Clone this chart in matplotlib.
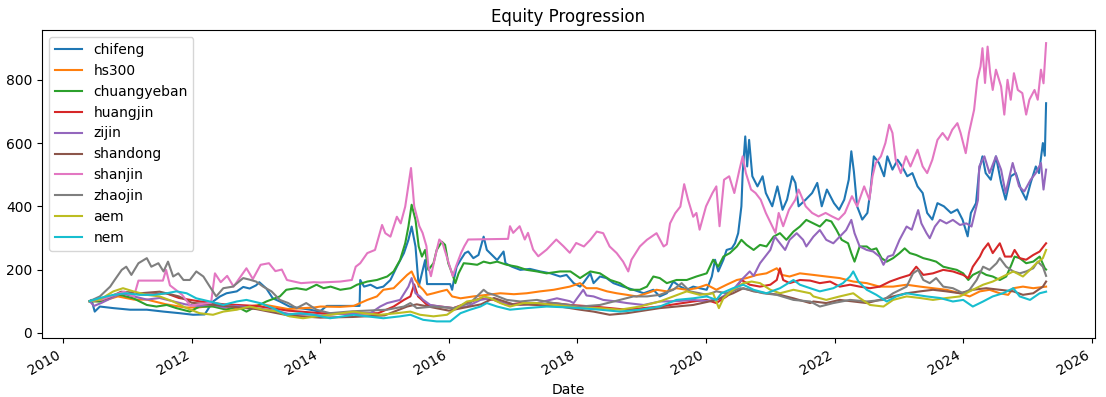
import pandas as pd
import matplotlib
matplotlib.use('Agg')
import matplotlib.pyplot as plt
import matplotlib.dates as mdates

# values, x in decimal years
chifeng_t = [2010.41, 2010.44, 2010.49, 2010.57, 2010.78, 2011.04, 2011.3, 2011.56, 2011.81, 2012.02, 2012.2,
             2012.33, 2012.44, 2012.54, 2012.7, 2012.8, 2012.9, 2013.0, 2013.05, 2013.16, 2013.26, 2013.37,
             2013.52, 2013.68, 2013.84, 2013.99, 2014.1, 2014.3, 2014.61, 2014.62, 2014.68, 2014.78, 2014.88,
             2014.98, 2015.09, 2015.19, 2015.3, 2015.37, 2015.42, 2015.48, 2015.53, 2015.58, 2015.63, 2015.66,
             2016.02, 2016.05, 2016.08, 2016.12, 2016.18, 2016.25, 2016.3, 2016.38, 2016.46, 2016.54, 2016.59,
             2016.67, 2016.75, 2016.85, 2016.88, 2016.98, 2017.11, 2017.26, 2017.42, 2017.58, 2017.73, 2017.83,
             2017.94, 2018.04, 2018.09, 2018.2, 2018.25, 2018.35, 2018.45, 2018.56, 2018.71, 2018.87, 2019.03,
             2019.18, 2019.28, 2019.39, 2019.49, 2019.6, 2019.7, 2019.8, 2019.9, 2020.01, 2020.09, 2020.14,
             2020.19, 2020.27, 2020.32, 2020.4, 2020.45, 2020.5, 2020.55, 2020.57, 2020.61, 2020.64, 2020.67,
             2020.72, 2020.8, 2020.88, 2020.93, 2021.03, 2021.11, 2021.19, 2021.26, 2021.34, 2021.39, 2021.44,
             2021.55, 2021.65, 2021.73, 2021.8, 2021.88, 2021.99, 2022.07, 2022.15, 2022.22, 2022.26, 2022.3,
             2022.35, 2022.43, 2022.51, 2022.56, 2022.61, 2022.69, 2022.77, 2022.82, 2022.9, 2022.98, 2023.05,
             2023.13, 2023.21, 2023.29, 2023.37, 2023.44, 2023.52, 2023.6, 2023.7, 2023.81, 2023.91, 2023.99,
             2024.07, 2024.12, 2024.2, 2024.25, 2024.3, 2024.35, 2024.43, 2024.51, 2024.59, 2024.66, 2024.74,
             2024.82, 2024.9, 2024.98, 2025.05, 2025.13, 2025.18, 2025.24, 2025.27, 2025.29]
chifeng_v = [100, 104, 67, 83, 78, 73, 73, 67, 62, 57, 58,
             99, 115, 125, 131, 145, 140, 150, 160, 140, 109, 99,
             83, 78, 73, 67, 85, 85, 85, 167, 146, 152, 141,
             146, 167, 209, 252, 294, 336, 273, 146, 188, 230, 154,
             154, 136, 170, 209, 230, 252, 257, 236, 246, 304, 262,
             246, 230, 257, 220, 209, 199, 202, 194, 188, 178, 183,
             157, 146, 157, 188, 157, 178, 173, 157, 146, 136, 125,
             136, 115, 125, 162, 146, 136, 146, 141, 136, 178, 231,
             194, 231, 262, 267, 283, 315, 400, 505, 621, 526, 610,
             495, 463, 495, 442, 400, 463, 389, 421, 495, 474, 400,
             421, 442, 474, 400, 453, 410, 389, 421, 484, 574, 510,
             400, 358, 379, 453, 558, 537, 495, 558, 516, 547, 526,
             495, 505, 463, 442, 379, 358, 410, 400, 379, 390, 358,
             305, 379, 410, 516, 558, 505, 484, 558, 474, 421, 495,
             505, 453, 421, 474, 526, 505, 600, 560, 726]

hs300_t = [2010.41, 2010.6, 2010.85, 2011.1, 2011.3, 2011.6, 2011.9, 2012.1, 2012.3, 2012.7, 2012.95, 2013.1,
           2013.5, 2013.9, 2014.0, 2014.31, 2014.52, 2014.73, 2014.88, 2014.98, 2015.14, 2015.27, 2015.35,
           2015.42, 2015.48, 2015.55, 2015.6, 2015.66, 2015.76, 2015.87, 2015.97, 2016.05, 2016.18, 2016.38,
           2016.59, 2016.8, 2017.01, 2017.21, 2017.42, 2017.63, 2017.88, 2018.04, 2018.14, 2018.3, 2018.46,
           2018.61, 2018.77, 2018.92, 2019.08, 2019.23, 2019.39, 2019.54, 2019.7, 2019.85, 2020.01, 2020.16,
           2020.32, 2020.48, 2020.63, 2020.79, 2020.94, 2021.1, 2021.18, 2021.3, 2021.46, 2021.67, 2021.87,
           2022.08, 2022.29, 2022.5, 2022.7, 2022.91, 2023.12, 2023.33, 2023.53, 2023.74, 2023.95, 2024.1,
           2024.26, 2024.41, 2024.57, 2024.7, 2024.78, 2024.93, 2025.09, 2025.29]
hs300_v = [100, 100, 115, 105, 105, 90, 80, 80, 85, 75, 85, 90,
           75, 80, 83, 82, 85, 104, 115, 136, 141, 167, 183,
           194, 167, 146, 136, 120, 125, 131, 136, 115, 109, 115,
           120, 125, 122, 125, 131, 136, 146, 157, 141, 141, 131,
           125, 120, 115, 125, 136, 131, 141, 136, 141, 152, 136,
           152, 167, 173, 183, 188, 204, 183, 178, 188, 183, 178,
           173, 162, 157, 146, 146, 152, 146, 141, 136, 125, 115,
           131, 136, 125, 120, 141, 146, 141, 146]

chuangyeban_t = [2010.41, 2010.57, 2010.73, 2010.88, 2011.09, 2011.3, 2011.45, 2011.61, 2011.76, 2011.97, 2012.12,
                 2012.33, 2012.54, 2012.7, 2012.85, 2013.0, 2013.16, 2013.37, 2013.47, 2013.63, 2013.78, 2013.94,
                 2014.05, 2014.16, 2014.31, 2014.47, 2014.57, 2014.73, 2014.88, 2015.04, 2015.14, 2015.24,
                 2015.32, 2015.37, 2015.42, 2015.48, 2015.53, 2015.58, 2015.63, 2015.68, 2015.76, 2015.81,
                 2015.89, 2015.94, 2015.99, 2016.05, 2016.1, 2016.15, 2016.23, 2016.33, 2016.44, 2016.54,
                 2016.64, 2016.75, 2016.9, 2017.06, 2017.21, 2017.37, 2017.52, 2017.73, 2017.89, 2018.04,
                 2018.2, 2018.35, 2018.51, 2018.66, 2018.82, 2018.97, 2019.08, 2019.18, 2019.28, 2019.39,
                 2019.54, 2019.7, 2019.85, 2020.01, 2020.11, 2020.19, 2020.27, 2020.37, 2020.48, 2020.55,
                 2020.63, 2020.74, 2020.84, 2020.94, 2021.05, 2021.15, 2021.25, 2021.36, 2021.46, 2021.56,
                 2021.67, 2021.77, 2021.87, 2021.95, 2022.03, 2022.11, 2022.21, 2022.26, 2022.31, 2022.39,
                 2022.5, 2022.57, 2022.65, 2022.73, 2022.81, 2022.91, 2023.01, 2023.09, 2023.17, 2023.27,
                 2023.38, 2023.48, 2023.58, 2023.69, 2023.79, 2023.9, 2024.0, 2024.08, 2024.15, 2024.26,
                 2024.36, 2024.46, 2024.57, 2024.67, 2024.75, 2024.8, 2024.88, 2024.98, 2025.09, 2025.19,
                 2025.27, 2025.29]
chuangyeban_v = [100, 99, 115, 120, 109, 88, 83, 88, 78, 67, 83,
                 83, 73, 83, 67, 83, 99, 115, 136, 141, 136, 152,
                 141, 146, 136, 141, 152, 162, 167, 178, 194, 230,
                 283, 336, 405, 357, 273, 241, 262, 199, 220, 262,
                 288, 278, 220, 188, 157, 188, 220, 218, 215, 225,
                 220, 225, 215, 209, 199, 194, 188, 194, 194, 173,
                 194, 188, 167, 157, 136, 136, 146, 178, 173, 157,
                 167, 167, 178, 188, 231, 209, 241, 252, 273, 294,
                 278, 262, 278, 273, 304, 315, 294, 320, 336, 357,
                 346, 336, 357, 352, 325, 294, 283, 252, 225, 273,
                 273, 262, 267, 236, 225, 236, 252, 267, 252, 246,
                 236, 231, 225, 209, 204, 199, 188, 167, 183, 194,
                 183, 178, 167, 178, 215, 241, 236, 220, 225, 241,
                 204, 200]

huangjin_t = [2010.41, 2010.6, 2010.8, 2011.0, 2011.3, 2011.6, 2011.8, 2012.1, 2012.5, 2013.0, 2013.5, 2014.0,
              2014.5, 2014.9, 2015.14, 2015.3, 2015.4, 2015.46, 2015.52, 2015.58, 2015.66, 2015.87, 2016.07,
              2016.28, 2016.49, 2016.7, 2016.9, 2017.11, 2017.37, 2017.63, 2017.88, 2018.25, 2018.77, 2019.28,
              2019.8, 2020.01, 2020.16, 2020.32, 2020.48, 2020.55, 2020.68, 2020.84, 2021.0, 2021.1, 2021.15,
              2021.2, 2021.3, 2021.46, 2021.62, 2021.77, 2021.93, 2022.08, 2022.24, 2022.39, 2022.55, 2022.7,
              2022.86, 2023.01, 2023.17, 2023.27, 2023.38, 2023.53, 2023.69, 2023.84, 2024.0, 2024.08, 2024.15,
              2024.26, 2024.31, 2024.39, 2024.46, 2024.57, 2024.65, 2024.75, 2024.8, 2024.88, 2024.98, 2025.09,
              2025.19, 2025.27, 2025.29]
huangjin_v = [100, 105, 120, 125, 120, 125, 110, 100, 90, 85, 70, 62,
              60, 62, 83, 104, 115, 153, 115, 104, 88, 83, 78,
              94, 109, 104, 88, 94, 88, 94, 88, 83, 73, 83,
              99, 104, 94, 115, 146, 167, 152, 146, 152, 167, 204,
              167, 157, 167, 165, 157, 162, 146, 152, 146, 141, 146,
              162, 173, 183, 209, 183, 188, 199, 194, 183, 173, 209,
              241, 262, 283, 252, 283, 241, 241, 262, 236, 231, 246,
              257, 278, 283]

zijin_t = [2010.41, 2010.48, 2010.6, 2010.75, 2010.9, 2011.1, 2011.3, 2011.5, 2011.7, 2011.9, 2012.1, 2012.3,
           2012.5, 2012.7, 2012.9, 2013.1, 2013.3, 2013.5, 2013.8, 2014.0, 2014.3, 2014.6, 2014.78, 2014.93,
           2015.04, 2015.24, 2015.37, 2015.42, 2015.48, 2015.55, 2015.6, 2015.71, 2015.87, 2016.07, 2016.28,
           2016.49, 2016.64, 2016.85, 2017.11, 2017.37, 2017.68, 2017.88, 2017.94, 2018.09, 2018.14, 2018.25,
           2018.4, 2018.61, 2018.77, 2019.03, 2019.28, 2019.54, 2019.8, 2020.01, 2020.22, 2020.42, 2020.55,
           2020.68, 2020.74, 2020.84, 2020.92, 2021.0, 2021.07, 2021.15, 2021.23, 2021.3, 2021.41, 2021.51,
           2021.56, 2021.67, 2021.77, 2021.87, 2021.98, 2022.08, 2022.18, 2022.26, 2022.31, 2022.39, 2022.5,
           2022.6, 2022.7, 2022.76, 2022.83, 2022.91, 2023.01, 2023.12, 2023.2, 2023.3, 2023.35, 2023.43,
           2023.48, 2023.56, 2023.64, 2023.74, 2023.84, 2023.95, 2024.05, 2024.13, 2024.18, 2024.23, 2024.25,
           2024.33, 2024.41, 2024.51, 2024.59, 2024.66, 2024.77, 2024.87, 2024.95, 2025.05, 2025.13, 2025.21,
           2025.25, 2025.29]
zijin_v = [100, 85, 95, 110, 125, 115, 105, 110, 100, 90, 85, 90,
           80, 85, 80, 75, 70, 60, 58, 55, 60, 62, 62, 83,
           94, 104, 146, 173, 125, 115, 104, 88, 83, 78, 83,
           104, 109, 94, 88, 94, 109, 100, 94, 136, 118, 115,
           104, 99, 94, 88, 99, 100, 104, 100, 109, 136, 167,
           194, 180, 220, 241, 262, 304, 283, 262, 294, 315, 294,
           273, 304, 325, 294, 283, 304, 325, 357, 315, 273, 262,
           257, 241, 215, 241, 246, 294, 336, 326, 388, 346, 315,
           299, 336, 357, 346, 357, 341, 346, 336, 378, 420, 526,
           558, 505, 558, 516, 442, 537, 463, 447, 484, 505, 537,
           453, 516]

shandong_t = [2010.41, 2010.7, 2010.9, 2011.2, 2011.5, 2011.8, 2012.0, 2012.5, 2013.0, 2013.5, 2014.0, 2014.5,
              2015.0, 2015.35, 2015.5, 2016.0, 2016.5, 2016.7, 2017.0, 2017.5, 2017.73, 2018.04, 2018.25,
              2018.5, 2018.77, 2019.28, 2019.8, 2020.16, 2020.42, 2020.58, 2020.74, 2020.94, 2021.15, 2021.36,
              2021.62, 2021.67, 2021.87, 2022.08, 2022.29, 2022.5, 2022.7, 2022.91, 2023.12, 2023.33, 2023.53,
              2023.74, 2023.95, 2024.15, 2024.36, 2024.57, 2024.78, 2024.93, 2025.09, 2025.24, 2025.29]
shandong_v = [100, 110, 130, 125, 130, 115, 95, 85, 75, 55, 48, 50,
              55, 83, 90, 70, 90, 110, 90, 88, 83, 73, 67,
              57, 62, 78, 88, 104, 125, 141, 131, 125, 120, 109,
              94, 99, 94, 104, 99, 94, 104, 115, 125, 131, 136,
              131, 125, 136, 141, 136, 131, 120, 125, 146, 162]

shanjin_t = [2010.41, 2010.6, 2010.8, 2010.95, 2011.1, 2011.17, 2011.55, 2011.6, 2011.66, 2011.75, 2011.85,
             2011.98, 2012.1, 2012.3, 2012.36, 2012.45, 2012.55, 2012.65, 2012.75, 2012.85, 2012.95, 2013.07,
             2013.2, 2013.3, 2013.4, 2013.48, 2013.7, 2013.9, 2014.0, 2014.31, 2014.49, 2014.55, 2014.62,
             2014.73, 2014.85, 2014.96, 2015.01, 2015.09, 2015.19, 2015.25, 2015.32, 2015.41, 2015.46, 2015.54,
             2015.59, 2015.65, 2015.68, 2015.72, 2015.8, 2015.85, 2015.9, 2015.98, 2016.06, 2016.11, 2016.19,
             2016.24, 2016.3, 2016.92, 2016.95, 2017.0, 2017.1, 2017.18, 2017.23, 2017.31, 2017.39, 2017.52,
             2017.67, 2017.78, 2017.88, 2017.98, 2018.1, 2018.2, 2018.3, 2018.4, 2018.5, 2018.61, 2018.71,
             2018.79, 2018.84, 2018.97, 2019.08, 2019.23, 2019.34, 2019.39, 2019.44, 2019.52, 2019.6, 2019.66,
             2019.72, 2019.8, 2019.85, 2019.9, 2020.0, 2020.1, 2020.16, 2020.21, 2020.28, 2020.36, 2020.44,
             2020.52, 2020.57, 2020.62, 2020.7, 2020.77, 2020.85, 2020.93, 2021.03, 2021.08, 2021.13, 2021.2,
             2021.29, 2021.39, 2021.44, 2021.55, 2021.65, 2021.75, 2021.86, 2021.96, 2022.06, 2022.16, 2022.27,
             2022.35, 2022.46, 2022.54, 2022.59, 2022.64, 2022.72, 2022.79, 2022.85, 2022.9, 2022.95, 2023.03,
             2023.11, 2023.18, 2023.29, 2023.37, 2023.44, 2023.52, 2023.6, 2023.68, 2023.76, 2023.83, 2023.91,
             2023.96, 2024.04, 2024.09, 2024.17, 2024.22, 2024.27, 2024.3, 2024.34, 2024.38, 2024.42, 2024.46,
             2024.51, 2024.59, 2024.64, 2024.69, 2024.74, 2024.79, 2024.85, 2024.92, 2024.98, 2025.03, 2025.11,
             2025.16, 2025.21, 2025.25, 2025.29]
shanjin_v = [100, 105, 120, 130, 115, 165, 165, 199, 150, 136, 120,
             85, 90, 95, 188, 160, 180, 146, 175, 204, 170, 215,
             220, 195, 200, 167, 157, 160, 159, 162, 167, 209, 220,
             252, 262, 341, 315, 304, 367, 346, 399, 521, 400, 337,
             316, 274, 210, 179, 253, 295, 284, 232, 179, 210, 253,
             274, 295, 297, 337, 316, 337, 295, 316, 263, 242, 263,
             295, 274, 253, 284, 273, 294, 320, 315, 273, 252, 225,
             194, 231, 273, 294, 315, 273, 280, 346, 378, 399, 470,
             421, 367, 379, 326, 400, 442, 463, 337, 484, 495, 442,
             516, 558, 505, 453, 442, 421, 379, 337, 316, 379, 337,
             389, 421, 453, 400, 379, 368, 379, 368, 358, 379, 432,
             400, 463, 421, 495, 537, 558, 600, 658, 632, 547, 505,
             558, 526, 579, 526, 505, 547, 610, 632, 610, 642, 663,
             632, 568, 632, 705, 800, 842, 900, 790, 905, 821, 768,
             832, 779, 690, 800, 737, 821, 768, 758, 690, 737, 768,
             737, 832, 789, 916]

zhaojin_t = [2010.41, 2010.57, 2010.73, 2010.8, 2010.91, 2010.98, 2011.06, 2011.17, 2011.3, 2011.37, 2011.48,
             2011.56, 2011.63, 2011.71, 2011.79, 2011.87, 2011.97, 2012.07, 2012.18, 2012.28, 2012.38, 2012.49,
             2012.64, 2012.8, 2012.9, 2013.0, 2013.11, 2013.24, 2013.37, 2013.5, 2013.63, 2013.78, 2013.94,
             2014.15, 2014.5, 2015.04, 2015.3, 2015.4, 2015.5, 2015.76, 2016.07, 2016.33, 2016.54, 2016.6,
             2016.7, 2016.9, 2017.11, 2017.37, 2017.63, 2017.88, 2018.04, 2018.35, 2018.66, 2018.87, 2019.08,
             2019.28, 2019.49, 2019.62, 2019.75, 2019.9, 2020.01, 2020.16, 2020.32, 2020.53, 2020.68, 2020.89,
             2021.1, 2021.36, 2021.62, 2021.77, 2021.98, 2022.24, 2022.5, 2022.76, 2022.91, 2023.12, 2023.22,
             2023.3, 2023.38, 2023.48, 2023.58, 2023.69, 2023.84, 2024.0, 2024.1, 2024.21, 2024.31, 2024.41,
             2024.52, 2024.57, 2024.67, 2024.78, 2024.88, 2024.98, 2025.09, 2025.16, 2025.24, 2025.29]
zhaojin_v = [100, 115, 146, 167, 199, 209, 183, 220, 236, 209, 220,
             194, 225, 178, 188, 167, 167, 194, 178, 146, 115, 141,
             146, 173, 168, 162, 146, 131, 104, 94, 78, 94, 73,
             62, 68, 73, 83, 94, 78, 83, 78, 94, 136, 126,
             120, 104, 99, 104, 94, 88, 83, 88, 104, 115, 115,
             120, 136, 157, 131, 125, 120, 131, 125, 141, 136, 125,
             120, 104, 99, 83, 94, 104, 99, 104, 125, 146, 188,
             199, 167, 157, 173, 146, 141, 125, 136, 167, 209, 199,
             220, 236, 209, 194, 188, 194, 204, 225, 209, 180]

aem_t = [2010.41, 2010.57, 2010.78, 2010.93, 2011.09, 2011.3, 2011.5, 2011.71, 2011.92, 2012.12, 2012.33, 2012.49,
         2012.7, 2012.9, 2013.11, 2013.32, 2013.52, 2013.73, 2013.94, 2014.15, 2014.52, 2014.67, 2014.93, 2015.19,
         2015.4, 2015.55, 2015.76, 2015.97, 2016.12, 2016.28, 2016.44, 2016.54, 2016.64, 2016.8, 2016.95, 2017.16,
         2017.37, 2017.63, 2017.88, 2018.04, 2018.35, 2018.66, 2018.97, 2019.28, 2019.49, 2019.7, 2019.9, 2020.11,
         2020.2, 2020.27, 2020.42, 2020.58, 2020.71, 2020.84, 2021.0, 2021.15, 2021.36, 2021.62, 2021.67, 2021.87,
         2022.08, 2022.29, 2022.39, 2022.55, 2022.76, 2022.91, 2023.12, 2023.33, 2023.53, 2023.74, 2023.95, 2024.15,
         2024.31, 2024.46, 2024.62, 2024.78, 2024.93, 2025.04, 2025.14, 2025.24, 2025.29]
aem_v = [100, 105, 131, 141, 131, 120, 115, 99, 78, 62, 57, 67,
         73, 83, 73, 68, 52, 46, 52, 57, 67, 62, 57, 62,
         67, 57, 52, 57, 78, 99, 104, 115, 110, 94, 83, 94,
         94, 88, 83, 78, 78, 73, 83, 99, 115, 131, 120, 125,
         78, 109, 136, 157, 162, 157, 136, 125, 136, 125, 115, 104,
         115, 125, 110, 88, 83, 104, 115, 110, 104, 110, 115, 136,
         152, 162, 178, 194, 178, 199, 220, 236, 262]

nem_t = [2010.41, 2010.57, 2010.78, 2010.98, 2011.19, 2011.4, 2011.61, 2011.76, 2011.92, 2012.07, 2012.28, 2012.49,
         2012.7, 2012.85, 2013.06, 2013.26, 2013.47, 2013.68, 2013.89, 2014.15, 2014.52, 2014.73, 2014.98, 2015.24,
         2015.4, 2015.6, 2015.81, 2016.02, 2016.18, 2016.33, 2016.49, 2016.59, 2016.75, 2016.95, 2017.21, 2017.52,
         2017.88, 2018.04, 2018.35, 2018.66, 2018.97, 2019.28, 2019.54, 2019.8, 2020.01, 2020.16, 2020.24, 2020.42,
         2020.58, 2020.74, 2020.94, 2021.15, 2021.36, 2021.46, 2021.62, 2021.77, 2021.98, 2022.13, 2022.24, 2022.29,
         2022.37, 2022.5, 2022.65, 2022.81, 2022.96, 2023.12, 2023.27, 2023.43, 2023.64, 2023.84, 2024.0, 2024.15,
         2024.31, 2024.46, 2024.62, 2024.78, 2024.88, 2025.04, 2025.19, 2025.29]
nem_v = [100, 110, 120, 125, 120, 120, 125, 131, 125, 109, 99, 88,
         99, 104, 94, 78, 57, 62, 57, 46, 57, 52, 46, 52,
         57, 41, 36, 36, 62, 73, 83, 94, 83, 73, 78, 83,
         80, 78, 73, 67, 73, 83, 104, 109, 115, 104, 125, 141,
         152, 136, 125, 141, 167, 152, 141, 131, 141, 157, 178, 194,
         162, 136, 120, 99, 115, 125, 120, 115, 110, 99, 104, 83,
         99, 115, 125, 141, 115, 104, 125, 130]

series = [
    ('chifeng', chifeng_t, chifeng_v),
    ('hs300', hs300_t, hs300_v),
    ('chuangyeban', chuangyeban_t, chuangyeban_v),
    ('huangjin', huangjin_t, huangjin_v),
    ('zijin', zijin_t, zijin_v),
    ('shandong', shandong_t, shandong_v),
    ('shanjin', shanjin_t, shanjin_v),
    ('zhaojin', zhaojin_t, zhaojin_v),
    ('aem', aem_t, aem_v),
    ('nem', nem_t, nem_v),
]


def to_dates(years):
    start = pd.Timestamp('2010-01-01')
    return [start + pd.Timedelta(days=(y - 2010) * 365.25) for y in years]


fig, ax = plt.subplots(figsize=(11.06, 3.97), dpi=100)
fig.subplots_adjust(left=0.038, right=0.990, bottom=0.149, top=0.924)

for name, t, v in series:
    ax.plot(to_dates(t), v, label=name, linewidth=1.5)

ax.set_xlim(to_dates([2009.67, 2026.05]))
ax.set_ylim(-16, 957)
ax.xaxis.set_major_locator(mdates.YearLocator(2))
ax.xaxis.set_major_formatter(mdates.DateFormatter('%Y'))
ax.set_title('Equity Progression')
ax.set_xlabel('Date')
ax.legend(loc='upper left')
fig.autofmt_xdate()
fig.subplots_adjust(left=0.038, right=0.990, bottom=0.149, top=0.924)

fig.savefig('out.png', dpi=100)
